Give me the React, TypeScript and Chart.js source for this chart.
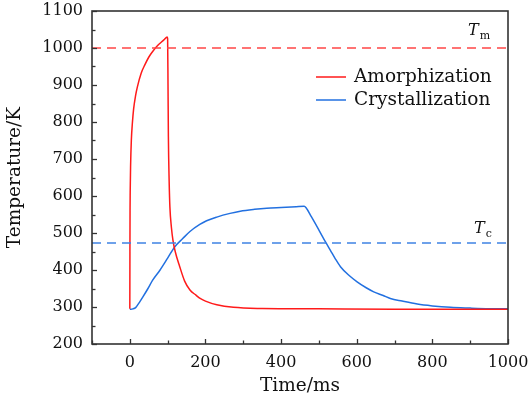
import React, { useEffect, useRef } from 'react';
import { Chart, registerables } from 'chart.js';

Chart.register(...registerables);

// ---- data ----
const amorphTime = [0, 0.3, 0.6, 1, 2, 4, 7, 10, 15, 20, 30, 40, 50, 60, 70, 80, 90, 99, 100, 101, 102, 104, 106, 110, 114, 120, 132, 145, 159, 175, 186, 200, 230, 274, 350, 500, 700, 1000];
const amorphTemp = [295, 450, 560, 610, 680, 750, 800, 835, 870, 895, 932, 955, 975, 990, 1003, 1013, 1022, 1030, 1025, 900, 760, 640, 570, 515, 481, 450, 409, 370, 346, 332, 323, 316, 306, 299, 296, 295, 294, 294];

const crystTime = [0, 8, 16, 25, 35, 48, 60, 80, 100, 119, 140, 159, 185, 203, 230, 265, 292, 330, 362, 400, 440, 461, 466, 480, 500, 519, 530, 543, 557, 580, 601, 625, 645, 670, 689, 720, 760, 800, 848, 900, 950, 1000];
const crystTemp = [294, 295, 299, 312, 328, 350, 372, 400, 432, 463, 485, 504, 523, 533, 543, 553, 559, 564, 567, 569, 571, 572, 568, 544, 508, 473, 454, 431, 409, 385, 368, 352, 341, 331, 323, 316, 308, 303, 299, 297, 295.5, 295];

const meltTemp = 1000; // T_m
const crystTempLine = 473; // T_c
const xLimits = [-100, 1000];
const yLimits = [200, 1100];
const seriesLabels = ['Amorphization', 'Crystallization'];

const RED = '#ff1a1a';
const RED_DASH = '#ff4545';
const BLUE = '#2270e0';
const BLUE_DASH = '#3f83e4';
const FONT = '"DejaVu Serif", serif';

const toPoints = (xs: number[], ys: number[]) => xs.map((x, i) => ({ x, y: ys[i] }));

const decorPlugin = {
  id: 'decor',
  afterDatasetsDraw(chart: any) {
    const { ctx, chartArea: a, scales } = chart;
    const xs = scales.x;
    const ys = scales.y;
    ctx.save();
    // ticks inward
    ctx.strokeStyle = '#333';
    ctx.lineWidth = 1.3;
    xs.ticks.forEach((t: any) => {
      const px = Math.round(xs.getPixelForValue(t.value)) + 0.5;
      const len = t.value % 200 === 0 ? 5 : 3.5;
      ctx.beginPath();
      ctx.moveTo(px, a.bottom);
      ctx.lineTo(px, a.bottom - len);
      ctx.stroke();
    });
    ys.ticks.forEach((t: any) => {
      const py = Math.round(ys.getPixelForValue(t.value)) + 0.5;
      const len = t.value % 100 === 0 ? 5 : 3.5;
      ctx.beginPath();
      ctx.moveTo(a.left, py);
      ctx.lineTo(a.left + len, py);
      ctx.stroke();
    });
    // frame
    ctx.lineWidth = 1.6;
    ctx.strokeStyle = '#333';
    ctx.strokeRect(a.left, a.top, a.right - a.left, a.bottom - a.top);

    // annotations T_m and T_c
    ctx.fillStyle = '#111';
    ctx.textBaseline = 'alphabetic';
    ctx.textAlign = 'left';
    const drawT = (sub: string, x: number, yBase: number) => {
      ctx.font = `italic 16px ${FONT}`;
      ctx.fillText('T', x, yBase);
      const w = ctx.measureText('T').width;
      ctx.font = `11px ${FONT}`;
      ctx.fillText(sub, x + w + 1, yBase + 4);
    };
    drawT('m', a.right - 40, ys.getPixelForValue(meltTemp) - 13);
    drawT('c', a.right - 34, ys.getPixelForValue(crystTempLine) - 10);

    // legend
    const colors = [RED, BLUE];
    ctx.font = `18.5px ${FONT}`;
    ctx.textBaseline = 'middle';
    seriesLabels.forEach((lab, i) => {
      const yy = a.top + 66 + i * 23;
      ctx.strokeStyle = colors[i];
      ctx.lineWidth = 1.5;
      ctx.beginPath();
      ctx.moveTo(a.right - 192, yy);
      ctx.lineTo(a.right - 162, yy);
      ctx.stroke();
      ctx.fillStyle = '#111';
      ctx.fillText(lab, a.right - 154, yy);
    });
    ctx.restore();
  },
};

export default function App() {
  const ref = useRef<HTMLCanvasElement>(null);
  useEffect(() => {
    document.body.style.margin = '0';
    const chart = new Chart(ref.current as HTMLCanvasElement, {
      type: 'line',
      data: {
        datasets: [
          {
            label: 'Tm',
            data: toPoints(xLimits, [meltTemp, meltTemp]),
            borderColor: RED_DASH,
            borderWidth: 1.4,
            borderDash: [9, 6],
            pointRadius: 0,
          },
          {
            label: 'Tc',
            data: toPoints(xLimits, [crystTempLine, crystTempLine]),
            borderColor: BLUE_DASH,
            borderWidth: 1.4,
            borderDash: [9, 6],
            pointRadius: 0,
          },
          {
            label: seriesLabels[0],
            data: toPoints(amorphTime, amorphTemp),
            borderColor: RED,
            borderWidth: 1.5,
            pointRadius: 0,
            cubicInterpolationMode: 'monotone',
          },
          {
            label: seriesLabels[1],
            data: toPoints(crystTime, crystTemp),
            borderColor: BLUE,
            borderWidth: 1.5,
            pointRadius: 0,
            cubicInterpolationMode: 'monotone',
          },
        ],
      },
      options: {
        responsive: false,
        animation: false,
        layout: { padding: { left: 0, top: 11, right: 21, bottom: 0 } },
        plugins: { legend: { display: false }, tooltip: { enabled: false } },
        scales: {
          x: {
            type: 'linear',
            min: xLimits[0],
            max: xLimits[1],
            grid: { display: false, drawTicks: false },
            border: { display: false },
            ticks: {
              stepSize: 100,
              padding: 9,
              color: '#111',
              font: { family: FONT, size: 16 },
              maxRotation: 0,
              autoSkip: false,
              callback: (v: any) => (Number(v) % 200 === 0 ? String(v) : ''),
            },
            title: {
              display: true,
              text: 'Time/ms',
              color: '#111',
              font: { family: FONT, size: 18.5 },
              padding: { top: 0, bottom: 2 },
            },
            afterFit: (s: any) => {
              s.height = 55;
              s.paddingLeft = 0;
              s.paddingRight = 0;
            },
          },
          y: {
            type: 'linear',
            min: yLimits[0],
            max: yLimits[1],
            grid: { display: false, drawTicks: false },
            border: { display: false },
            ticks: {
              stepSize: 50,
              padding: 9,
              color: '#111',
              font: { family: FONT, size: 16 },
              autoSkip: false,
              callback: (v: any) => (Number(v) % 100 === 0 ? String(v) : ''),
            },
            title: {
              display: true,
              text: 'Temperature/K',
              color: '#111',
              font: { family: FONT, size: 18.5 },
              padding: { top: 4, bottom: 0 },
            },
            afterFit: (s: any) => {
              s.width = 92;
              s.paddingTop = 0;
              s.paddingBottom = 0;
            },
          },
        },
      },
      plugins: [decorPlugin],
    });
    return () => chart.destroy();
  }, []);
  return (
    <div style={{ width: 529, height: 399 }}>
      <canvas ref={ref} width={529} height={399} />
    </div>
  );
}
